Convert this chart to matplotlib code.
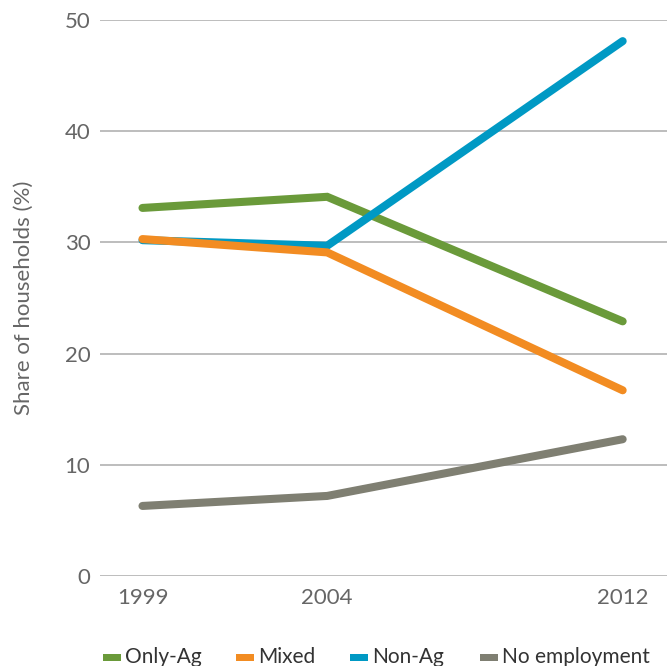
import matplotlib
matplotlib.use("Agg")
import matplotlib.pyplot as plt
from matplotlib.patches import Rectangle

plt.rcParams['font.family'] = ['Lato', 'DejaVu Sans']

years = [1999, 2004, 2012]
only_ag = [33.1, 34.1, 22.9]
non_ag = [30.2, 29.7, 48.1]
mixed = [30.3, 29.1, 16.7]
no_employment = [6.3, 7.2, 12.3]

series_names = ["Only-Ag", "Mixed", "Non-Ag", "No employment"]
colors = {"Only-Ag": "#6a9a3a", "Mixed": "#f28c22",
          "Non-Ag": "#0099c4", "No employment": "#7f7f72"}

W, H = 667, 666
fig = plt.figure(figsize=(W / 100, H / 100), dpi=100)
ax = fig.add_axes([100 / W, 90 / H, 1 - 100 / W, (576 - 20) / H])

lw = 5.8
style = dict(lw=lw, solid_capstyle='round', solid_joinstyle='miter')
ax.plot(years, only_ag, color=colors["Only-Ag"], zorder=3, **style)
ax.plot(years, non_ag, color=colors["Non-Ag"], zorder=4, **style)
ax.plot(years, mixed, color=colors["Mixed"], zorder=5, **style)
ax.plot(years, no_employment, color=colors["No employment"], zorder=3, **style)

ax.set_xlim(1997.85, 2013.2)
ax.set_ylim(0, 50)
ax.set_yticks([0, 10, 20, 30, 40, 50])
ax.set_xticks(years)
ax.yaxis.grid(True, color="#bdbdbd", lw=1.4)
ax.set_axisbelow(True)
for s in ax.spines.values():
    s.set_visible(False)
ax.tick_params(axis='both', length=0, labelsize=16, labelcolor="#666666")
ax.tick_params(axis='y', pad=7)
ax.tick_params(axis='x', pad=9)
ax.set_ylabel("Share of households (%)", fontsize=16, color="#666666", labelpad=22)

# Legend row along the bottom edge: swatch + label per series
swatch_x = [103, 236, 350, 480]
y_mid = 657
for name, sx in zip(series_names, swatch_x):
    fig.patches.append(Rectangle((sx / W, (H - y_mid - 3.5) / H), 18 / W, 7 / H,
                                 transform=fig.transFigure, facecolor=colors[name],
                                 edgecolor='none'))
    fig.text((sx + 22) / W, (H - y_mid) / H, name, fontsize=15, color="#333333",
             ha='left', va='center')

fig.savefig("out.png", dpi=100)
